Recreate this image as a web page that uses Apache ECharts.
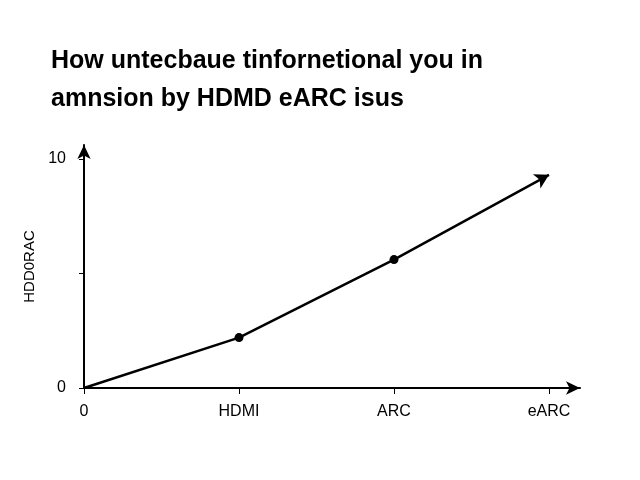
<!DOCTYPE html>
<html><head><meta charset="utf-8">
<script src="https://cdn.jsdelivr.net/npm/echarts@6/dist/echarts.min.js"></script>
<style>html,body{margin:0;padding:0;background:#fff}#c{width:640px;height:480px}</style>
</head><body><div id="c"></div>
<script>
const categories = ['0', 'HDMI', 'ARC', 'eARC'];
const values = [0, 2.2, 5.6, 9.3];
const yTicks = [0, 10];
const titleText = 'How untecbaue tinfornetional you in\namnsion by HDMD eARC isus';
const yName = 'HDD0RAC';

const data = values.map((v, i) => {
  const d = { value: [i, v] };
  if (i === 0) d.symbol = 'none';
  else if (i === values.length - 1) { d.symbol = 'arrow'; d.symbolSize = [12, 14]; d.symbolRotate = -62; }
  return d;
});
const chart = echarts.init(document.getElementById('c'));
chart.setOption({
  animation: false,
  backgroundColor: '#fff',
  title: { text: titleText, left: 46, top: 37,
    textStyle: { fontFamily: 'Liberation Sans', fontWeight: 'bold', fontSize: 25, lineHeight: 38, color: '#000' } },
  grid: { left: 84, right: 60, top: 145, bottom: 92 },
  xAxis: { type: 'value', min: 0, max: 3.2, interval: 1,
    axisLine: { lineStyle: { color: '#000', width: 2 }, symbol: ['none', 'arrow'], symbolSize: [10, 14] },
    axisTick: { show: true, inside: false, length: 6, lineStyle: { color: '#000' } },
    splitLine: { show: false },
    axisLabel: { showMaxLabel: false, color: '#000', fontSize: 16, fontFamily: 'Liberation Sans', margin: 16,
      formatter: v => (Number.isInteger(v) && categories[v] !== undefined) ? categories[v] : '' } },
  yAxis: { type: 'value', min: 0, max: 10.6, interval: 5,
    name: yName, nameLocation: 'middle', nameGap: -16, nameRotate: 90,
    nameTextStyle: { color: '#000', fontSize: 15, fontFamily: 'Liberation Sans' },
    axisLine: { show: true, lineStyle: { color: '#000', width: 2 }, symbol: ['none', 'arrow'], symbolSize: [10, 14] },
    axisTick: { show: true, length: 5, lineStyle: { color: '#000' } },
    splitLine: { show: false },
    axisLabel: { showMaxLabel: false, color: '#000', fontSize: 16, fontFamily: 'Liberation Sans', margin: 18,
      formatter: v => yTicks.includes(v) ? String(v) : '' } },
  series: [{ type: 'line', data: data, symbol: 'circle', symbolSize: 9,
    lineStyle: { color: '#000', width: 2.5 }, itemStyle: { color: '#000' } }]
});
</script></body></html>
